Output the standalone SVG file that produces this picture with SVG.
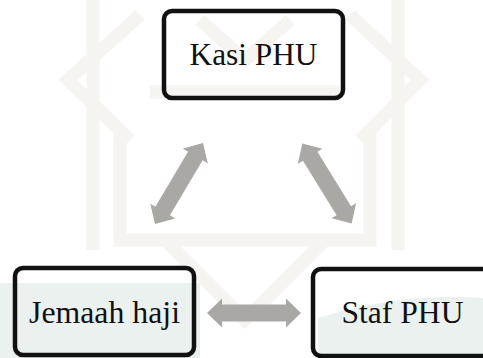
<svg xmlns="http://www.w3.org/2000/svg" width="483" height="358" viewBox="0 0 483 358">
<style>
.wm{fill:none;stroke:#f6f4f0;stroke-width:13;stroke-linejoin:miter}
.wg{fill:#ebf1ee}
.box{fill:none;stroke:#111;stroke-width:4.5}
.lbl{font-family:"Liberation Serif","DejaVu Serif","Noto Serif",Georgia,serif;font-size:31.5px;fill:#111;text-anchor:middle}
.arr{fill:#a9a8a5}
</style>
<defs>
<path id="dbl" d="M-47 0 L-32 -14.5 L-32 -8.5 L32 -8.5 L32 -14.5 L47 0 L32 14.5 L32 8.5 L-32 8.5 L-32 14.5 Z"/>
</defs>
<rect width="483" height="358" fill="#ffffff"/>
<g id="watermark">
<rect class="wg" x="0" y="283" width="200" height="75"/>
<path class="wg" d="M318 358 L318 318 Q400 292 483 298 L483 358 Z"/>
<polyline class="wm" points="93,0 93,250"/>
<polyline class="wm" points="140,15 68,80 130,140"/>
<polyline class="wm" points="120,130 120,240 370,240 370,130"/>
<polyline class="wm" points="398,0 398,250"/>
<polyline class="wm" points="350,15 420,80 360,140"/>
<polyline class="wm" points="165,240 245,320 325,240"/>
<polyline class="wm" points="200,20 245,60 290,20"/>
<polyline class="wm" points="150,92 340,92"/>
</g>
<g id="connectors">
<use href="#dbl" class="arr" transform="translate(254 313)"/>
<use href="#dbl" class="arr" transform="translate(179 183.5) rotate(-59.3)"/>
<use href="#dbl" class="arr" transform="translate(327 183.5) rotate(58.3)"/>
</g>
<g id="kasi">
<rect class="box" x="164" y="11" width="179" height="87" rx="8"/>
<text class="lbl" x="253.5" y="65" textLength="128" lengthAdjust="spacingAndGlyphs">Kasi PHU</text>
</g>
<g id="jemaah">
<rect class="box" x="15" y="268" width="179" height="87" rx="8"/>
<text class="lbl" x="104.5" y="323" textLength="151" lengthAdjust="spacingAndGlyphs">Jemaah haji</text>
</g>
<g id="staf">
<rect class="box" x="313" y="269" width="179" height="87" rx="8"/>
<text class="lbl" x="402.5" y="323" textLength="122" lengthAdjust="spacingAndGlyphs">Staf PHU</text>
</g>
</svg>
